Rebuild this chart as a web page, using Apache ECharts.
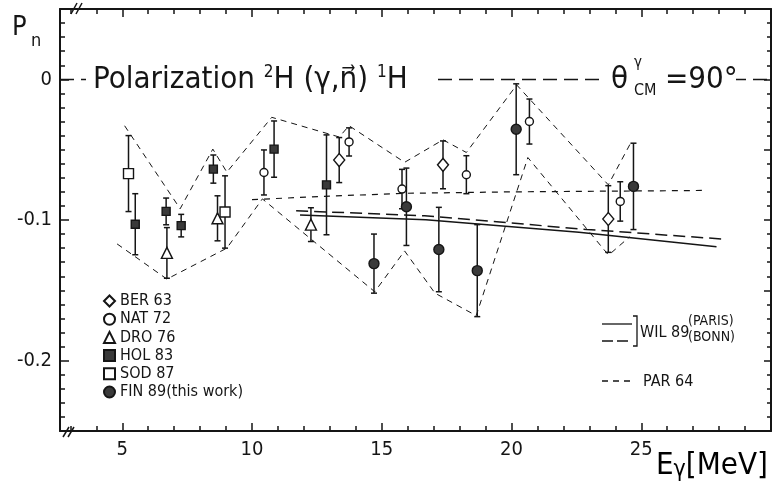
<!DOCTYPE html>
<html><head><meta charset="utf-8">
<script src="https://cdn.jsdelivr.net/npm/echarts@6/dist/echarts.min.js"></script>
<style>html,body{margin:0;padding:0;background:#fff}#c{width:781px;height:491px}</style>
</head><body><div id="c"></div><script>
// ---- data ----
const berE = [13.36, 17.36, 23.73];
const berP = [-0.0574, -0.0608, -0.0993];
const berErr = [0.016, 0.017, 0.0237];

const natE = [10.46, 13.74, 15.78, 18.26, 20.69, 24.19];
const natP = [-0.0662, -0.0445, -0.078, -0.0678, -0.030, -0.0868];
const natErr = [0.016, 0.010, 0.014, 0.0135, 0.016, 0.014];

const droE = [6.72, 8.67, 12.27];
const droP = [-0.1234, -0.0988, -0.1033];
const droErr = [0.018, 0.016, 0.012];

const holE = [5.5, 6.69, 7.27, 8.51, 10.85, 12.87];
const holP = [-0.103, -0.0939, -0.104, -0.0638, -0.0496, -0.075];
const holErr = [0.0217, 0.0095, 0.008, 0.010, 0.020, 0.0355];

const sodE = [5.24, 8.96];
const sodP = [-0.067, -0.0943];
const sodErr = [0.027, 0.0257];

const finE = [14.7, 15.95, 17.2, 18.68, 20.18, 24.7];
const finP = [-0.131, -0.0906, -0.121, -0.136, -0.0355, -0.0761];
const finErr = [0.021, 0.0275, 0.030, 0.0327, 0.0323, 0.0307];

const upperE = [5.09, 7.23, 8.49, 9.03, 10.76, 13.36, 13.74, 15.88, 17.36, 18.26, 20.2, 23.73, 24.6];
const upperP = [-0.033, -0.092, -0.0496, -0.066, -0.027, -0.041, -0.033, -0.059, -0.043, -0.052, -0.004, -0.075, -0.045];
const lowerE = [4.8, 6.72, 9.03, 10.4, 12.3, 14.73, 15.88, 17.05, 18.64, 20.63, 23.74, 24.55];
const lowerP = [-0.117, -0.142, -0.120, -0.085, -0.114, -0.151, -0.122, -0.152, -0.168, -0.0556, -0.125, -0.112];

const par64E = [10.0, 13.0, 16.0, 20.0, 27.4];
const par64P = [-0.0855, -0.083, -0.081, -0.080, -0.079];
const parisE = [11.85, 16.7, 22.6, 27.9];
const parisP = [-0.0965, -0.0998, -0.1087, -0.119];
const bonnE = [11.7, 16.65, 22.9, 28.1];
const bonnP = [-0.0934, -0.097, -0.1067, -0.1135];

const zeroLevel = 0;
const xTickLabels = [5, 10, 15, 20, 25];
const yTickLabels = [0, -0.1, -0.2];
const legendNames = ['BER 63', 'NAT 72', 'DRO 76', 'HOL 83', 'SOD 87', 'FIN 89(this work)'];

// ---- chart ----
const FF = "'DejaVu Sans Condensed','Liberation Sans Narrow','DejaVu Sans',sans-serif";
const INK = '#151515';
const xMin = 2.6, xMax = 30, yMin = -0.25, yMax = 0.05;

const xMinor = []; for (let v = 3; v <= 29; v++) xMinor.push(v);
const yMinor = []; for (let k = -24; k <= 4; k++) yMinor.push(Math.round(k) / 100);
const yMajorRight = [-0.2, -0.15, -0.1, -0.05, 0];

const zip = (a, b) => a.map((v, i) => [v, b[i]]);

function errSeries(E, P, err) {
  return {
    type: 'custom', silent: true, z: 3,
    data: E.map((e, i) => [e, P[i] - err[i], P[i] + err[i]]),
    encode: { x: 0, y: [1, 2] },
    renderItem: function (params, api) {
      const x = api.value(0);
      const lo = api.coord([x, api.value(1)]);
      const hi = api.coord([x, api.value(2)]);
      const w = 3, st = { stroke: INK, lineWidth: 1.5 };
      return { type: 'group', children: [
        { type: 'line', shape: { x1: lo[0], y1: lo[1], x2: hi[0], y2: hi[1] }, style: st },
        { type: 'line', shape: { x1: lo[0] - w, y1: lo[1], x2: lo[0] + w, y2: lo[1] }, style: st },
        { type: 'line', shape: { x1: hi[0] - w, y1: hi[1], x2: hi[0] + w, y2: hi[1] }, style: st }
      ] };
    }
  };
}
function scat(name, E, P, symbol, size, fill) {
  return {
    name, type: 'scatter', z: 5, symbol, symbolSize: size,
    data: zip(E, P),
    itemStyle: { color: fill, borderColor: INK, borderWidth: 1.4, opacity: 1 }
  };
}
function lineS(E, P, type, width) {
  return {
    type: 'line', data: zip(E, P), symbol: 'none', silent: true, z: 2,
    lineStyle: { color: INK, width, type }
  };
}

function xAx(pos, showLine, len, vals, labels) {
  return {
    type: 'value', min: xMin, max: xMax, position: pos, splitLine: { show: false },
    axisLine: { show: showLine, onZero: false, lineStyle: { color: INK, width: 2 } },
    axisTick: { inside: true, length: len, lineStyle: { color: INK, width: 1.5 }, customValues: vals },
    axisLabel: labels ? { customValues: labels, margin: 9, fontSize: 20, fontFamily: FF, color: INK } : { show: false }
  };
}
function yAx(pos, showLine, len, vals, labels) {
  return {
    type: 'value', min: yMin, max: yMax, position: pos, splitLine: { show: false },
    axisLine: { show: showLine, onZero: false, lineStyle: { color: INK, width: 2 } },
    axisTick: { inside: true, length: len, lineStyle: { color: INK, width: 1.5 }, customValues: vals },
    axisLabel: labels ? { customValues: labels, margin: 8, fontSize: 20, fontFamily: FF, color: INK,
      formatter: v => (Math.abs(v) < 1e-9 ? '0' : String(v)) } : { show: false }
  };
}

const option = {
  animation: false,
  backgroundColor: '#fff',
  grid: { left: 60, right: 10, top: 9, bottom: 60 },
  xAxis: [
    xAx('bottom', true, 5, xMinor, xTickLabels),
    xAx('bottom', false, 8, xTickLabels, null),
    xAx('top', true, 5, xMinor, null),
    xAx('top', false, 8, xTickLabels, null)
  ],
  yAxis: [
    yAx('left', true, 5, yMinor, yTickLabels),
    yAx('left', false, 9, yTickLabels, null),
    yAx('right', true, 4, yMinor, null),
    yAx('right', false, 7, yMajorRight, null)
  ],
  legend: {
    data: legendNames, orient: 'vertical', left: 98, top: 288,
    itemWidth: 11, itemHeight: 11, itemGap: 2.2, selectedMode: false,
    textStyle: { fontSize: 16, fontFamily: FF, color: INK }
  },
  series: [
    Object.assign(lineS(par64E, par64P, [6, 6], 1.2), {
      markLine: { silent: true, symbol: 'none', label: { show: false },
        lineStyle: { color: INK, width: 1.3, type: [14, 7] }, data: [{ yAxis: zeroLevel }] } }),
    lineS(upperE, upperP, [6, 5], 1),
    lineS(lowerE, lowerP, [6, 5], 1),
    lineS(parisE, parisP, 'solid', 1.5),
    lineS(bonnE, bonnP, [12, 6], 1.5),
    errSeries(berE, berP, berErr),
    errSeries(natE, natP, natErr),
    errSeries(droE, droP, droErr),
    errSeries(holE, holP, holErr),
    errSeries(sodE, sodP, sodErr),
    errSeries(finE, finP, finErr),
    scat('BER 63', berE, berP, 'diamond', [11, 13], '#fff'),
    scat('NAT 72', natE, natP, 'circle', 8, '#fff'),
    scat('DRO 76', droE, droP, 'triangle', 11, '#fff'),
    scat('HOL 83', holE, holP, 'rect', 8, '#3a3a3a'),
    scat('SOD 87', sodE, sodP, 'rect', 10, '#fff'),
    scat('FIN 89(this work)', finE, finP, 'circle', 10, '#3a3a3a')
  ],
  graphic: [
    { type: 'text', z: 100, style: { x: 12, y: 28, text: 'P', fontSize: 27, fontFamily: FF, fill: INK, verticalAlign: 'middle' } },
    { type: 'text', z: 100, style: { x: 31, y: 41, text: 'n', fontSize: 18, fontFamily: FF, fill: INK, verticalAlign: 'middle' } },
    { type: 'text', z: 100, style: { x: 86, y: 80, verticalAlign: 'middle',
        text: '{a|Polarization }{s|2}{a|H (γ,n⃗) }{s|1}{a|H}',
        backgroundColor: '#fff', padding: [0, 26, 0, 7],
        rich: { a: { fontSize: 31, fontFamily: FF, fill: INK, color: INK },
                s: { fontSize: 17, fontFamily: FF, fill: INK, color: INK, verticalAlign: 'top' } } } },
    { type: 'rect', z: 99, shape: { x: 606, y: 52, width: 130, height: 50 }, style: { fill: '#fff' } },
    { type: 'text', z: 100, style: { x: 611, y: 80, text: 'θ', fontSize: 31, fontFamily: FF, fill: INK, verticalAlign: 'middle' } },
    { type: 'text', z: 100, style: { x: 634, y: 63, text: 'γ', fontSize: 15, fontFamily: FF, fill: INK, verticalAlign: 'middle' } },
    { type: 'text', z: 100, style: { x: 634, y: 91, text: 'CM', fontSize: 16, fontFamily: FF, fill: INK, verticalAlign: 'middle' } },
    { type: 'text', z: 100, style: { x: 665, y: 80, text: '=90°', fontSize: 31, fontFamily: FF, fill: INK, verticalAlign: 'middle' } },
    { type: 'text', z: 100, style: { x: 656, y: 466, verticalAlign: 'middle',
        text: '{e|E}{g|γ}{e|[MeV]}',
        rich: { e: { fontSize: 31, fontFamily: FF, color: INK },
                g: { fontSize: 23, fontFamily: FF, color: INK, verticalAlign: 'bottom' } } } },
    // axis break marks
    { type: 'line', z: 100, shape: { x1: 71, y1: 14, x2: 77, y2: 3 }, style: { stroke: INK, lineWidth: 1.5 } },
    { type: 'line', z: 100, shape: { x1: 76, y1: 14, x2: 82, y2: 3 }, style: { stroke: INK, lineWidth: 1.5 } },
    { type: 'line', z: 100, shape: { x1: 63, y1: 437, x2: 69, y2: 427 }, style: { stroke: INK, lineWidth: 1.5 } },
    { type: 'line', z: 100, shape: { x1: 68, y1: 437, x2: 74, y2: 427 }, style: { stroke: INK, lineWidth: 1.5 } },
    // theory legend
    { type: 'line', z: 100, shape: { x1: 602, y1: 324, x2: 632, y2: 324 }, style: { stroke: INK, lineWidth: 1.3 } },
    { type: 'line', z: 100, shape: { x1: 602, y1: 341, x2: 632, y2: 341 }, style: { stroke: INK, lineWidth: 1.3, lineDash: [11, 4] } },
    { type: 'polyline', z: 100, shape: { points: [[633, 316], [637, 316], [637, 346], [633, 346]] }, style: { stroke: INK, lineWidth: 1.3, fill: null } },
    { type: 'text', z: 100, style: { x: 640, y: 333, text: 'WIL 89', fontSize: 16, fontFamily: FF, fill: INK, verticalAlign: 'middle' } },
    { type: 'text', z: 100, style: { x: 688, y: 321, text: '(PARIS)', fontSize: 14, fontFamily: FF, fill: INK, verticalAlign: 'middle' } },
    { type: 'text', z: 100, style: { x: 688, y: 337, text: '(BONN)', fontSize: 14, fontFamily: FF, fill: INK, verticalAlign: 'middle' } },
    { type: 'line', z: 100, shape: { x1: 602, y1: 381, x2: 632, y2: 381 }, style: { stroke: INK, lineWidth: 1.3, lineDash: [6, 5] } },
    { type: 'text', z: 100, style: { x: 643, y: 382, text: 'PAR 64', fontSize: 16, fontFamily: FF, fill: INK, verticalAlign: 'middle' } }
  ]
};

const chart = echarts.init(document.getElementById('c'), null, { renderer: 'canvas' });
chart.setOption(option);
</script></body></html>
